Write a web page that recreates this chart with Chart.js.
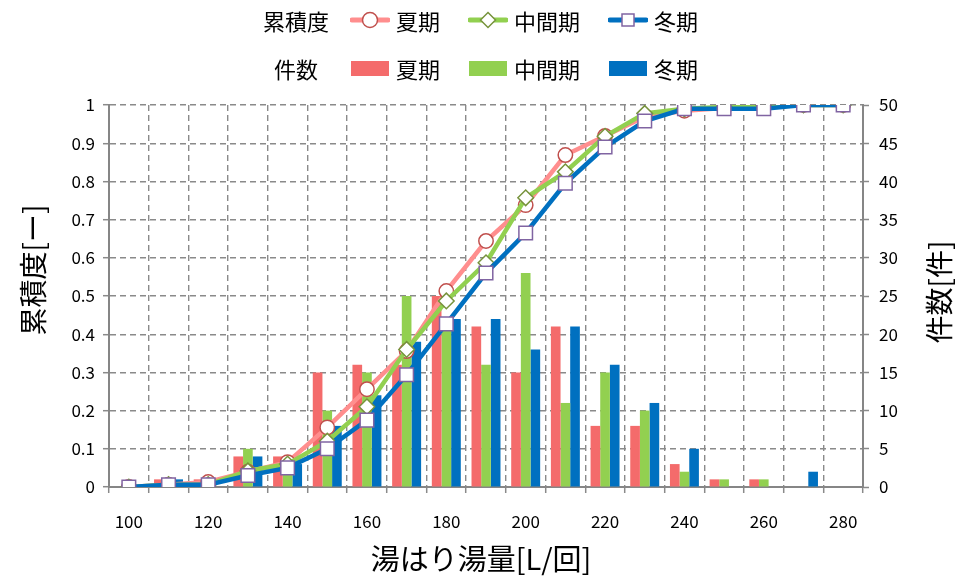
<!DOCTYPE html>
<html>
<head>
<meta charset="utf-8">
<script src="https://cdn.jsdelivr.net/npm/chart.js@4.4.1/dist/chart.umd.min.js"></script>
<style>
  html, body { margin: 0; padding: 0; background: #fff; }
  #wrap { position: relative; width: 958px; height: 577px; }
  #legend { position: absolute; left: 0; top: 0; width: 958px; font-family: "Noto Sans CJK JP", sans-serif; font-size: 22px; color: #000; }
  .row { position: absolute; left: 256px; height: 28px; display: flex; align-items: center; }
  .row .head { width: 80px; text-align: center; margin-right: 14px; }
  .item { display: flex; align-items: center; margin-right: 28px; }
  .item svg { margin-right: 6px; }
</style>
</head>
<body>
<div id="wrap">
  <canvas id="chart" width="958" height="577"></canvas>
  <div id="legend"></div>
</div>
<script>
// 湯はり湯量の分布（件数）と累積度
const categories = [100, 110, 120, 130, 140, 150, 160, 170, 180, 190, 200, 210, 220, 230, 240, 250, 260, 270, 280];
const seasons = ['夏期', '中間期', '冬期'];

// 件数 [件]
const countSummer = [0, 1, 1, 4, 4, 15, 16, 16, 25, 21, 15, 21, 8, 8, 3, 1, 1, 0, 0];
const countMid    = [0, 1, 0, 5, 3, 10, 15, 25, 21, 16, 28, 11, 15, 10, 2, 1, 1, 0, 0];
const countWinter = [0, 1, 0, 4, 3, 8, 12, 19, 22, 22, 18, 21, 16, 11, 5, 0, 0, 2, 0];

// 累積度 [-]
const cumSummer = [0, 0.006, 0.013, 0.04, 0.065, 0.156, 0.256, 0.356, 0.513, 0.644, 0.738, 0.869, 0.919, 0.969, 0.985, 0.992, 0.996, 1, 1];
const cumMid    = [0, 0.006, 0.006, 0.042, 0.06, 0.12, 0.21, 0.36, 0.487, 0.587, 0.757, 0.825, 0.918, 0.978, 0.99, 0.995, 1, 1, 1];
const cumWinter = [0, 0.006, 0.006, 0.03, 0.05, 0.1, 0.175, 0.294, 0.427, 0.56, 0.665, 0.795, 0.89, 0.958, 0.99, 0.99, 0.99, 1, 1];

const leftTicks = [0, 0.1, 0.2, 0.3, 0.4, 0.5, 0.6, 0.7, 0.8, 0.9, 1];
const rightTicks = [0, 5, 10, 15, 20, 25, 30, 35, 40, 45, 50];

const xTitle = '湯はり湯量[L/回]';
const yLeftTitle = '累積度[ー]';
const yRightTitle = '件数[件]';

const barColors = ['#F46B6B', '#92D050', '#0070C0'];
const lineColors = ['#FF8E8E', '#92D050', '#0070C0'];
const markerBorders = ['#C0504D', '#77933C', '#8064A2'];
const markerStyles = ['circle', 'rectRot', 'rect'];
const markerRadius = [7.2, 7.8, 9.6];

const gridGray = '#8A8A8A';
const fontFamily = '"Noto Sans CJK JP", "Noto Sans", sans-serif';
Chart.defaults.font.family = fontFamily;
Chart.defaults.color = '#000';

const countData = [countSummer, countMid, countWinter];
const cumData = [cumSummer, cumMid, cumWinter];

const datasets = [];
seasons.forEach((name, i) => {
  datasets.push({
    type: 'line',
    label: name,
    data: cumData[i],
    yAxisID: 'y',
    order: 3 - i,
    borderColor: lineColors[i],
    borderWidth: 4.5,
    tension: 0,
    pointStyle: markerStyles[i],
    pointRadius: markerRadius[i],
    pointBackgroundColor: '#fff',
    pointBorderColor: markerBorders[i],
    pointBorderWidth: 1.5
  });
});
seasons.forEach((name, i) => {
  datasets.push({
    type: 'bar',
    label: name,
    data: countData[i],
    yAxisID: 'y1',
    order: 10,
    backgroundColor: barColors[i],
    borderWidth: 0,
    categoryPercentage: 0.73,
    barPercentage: 1
  });
});

// 軸タイトル（元図の位置に合わせて描画）
const axisTitles = {
  id: 'axisTitles',
  afterDraw(chart) {
    const c = chart.ctx;
    c.save();
    c.fillStyle = '#000';
    c.textAlign = 'center';
    c.textBaseline = 'middle';
    c.font = '29px ' + fontFamily;
    c.fillText(xTitle, 481, 559);
    c.font = '28px ' + fontFamily;
    c.save();
    c.translate(33, 270);
    c.rotate(-Math.PI / 2);
    c.fillText(yLeftTitle, 0, 0);
    c.restore();
    c.save();
    c.translate(939, 292);
    c.rotate(-Math.PI / 2);
    c.fillText(yRightTitle, 0, 0);
    c.restore();
    c.restore();
  }
};

const ctx = document.getElementById('chart');
new Chart(ctx, {
  data: { labels: categories, datasets: datasets },
  plugins: [axisTitles],
  options: {
    responsive: false,
    animation: false,
    events: [],
    layout: { padding: { top: 105, left: 0, right: 0, bottom: 0 } },
    plugins: { legend: { display: false }, tooltip: { enabled: false } },
    scales: {
      x: {
        type: 'category',
        offset: true,
        afterFit: s => { s.height = 90; },
        grid: { offset: true, color: gridGray, lineWidth: 1.4, tickLength: 6, tickColor: gridGray, tickWidth: 1.5 },
        border: { display: true, color: '#868686', width: 2, dash: [6, 4] },
        ticks: {
          autoSkip: false, maxRotation: 0, padding: 18,
          font: { size: 17 },
          callback: (v, idx) => idx % 2 === 0 ? String(categories[idx]) : ''
        }
      },
      y: {
        position: 'left',
        min: 0, max: 1,
        afterFit: s => { s.width = 109; },
        afterBuildTicks: s => { s.ticks = leftTicks.map(v => ({ value: v })); },
        grid: { color: gridGray, lineWidth: 1.4, tickLength: 6, tickColor: gridGray, tickWidth: 1.5 },
        border: { display: true, color: '#868686', width: 2, dash: [6, 4] },
        ticks: { padding: 8, font: { size: 17 }, callback: v => String(Number(v.toFixed(1))) }
      },
      y1: {
        position: 'right',
        min: 0, max: 50,
        afterFit: s => { s.width = 95; },
        afterBuildTicks: s => { s.ticks = rightTicks.map(v => ({ value: v })); },
        grid: { drawOnChartArea: false, tickLength: 6, tickColor: gridGray, tickWidth: 1.5 },
        border: { display: true, color: '#868686', width: 2 },
        ticks: { padding: 10, font: { size: 17 }, callback: v => String(v) }
      }
    }
  }
});

// 凡例（累積度：線、件数：棒）
function lineSwatch(i) {
  const c = lineColors[i], b = markerBorders[i];
  let marker = '';
  if (markerStyles[i] === 'circle') {
    marker = `<circle cx="20" cy="11" r="7.5" fill="#fff" stroke="${b}" stroke-width="1.5"/>`;
  } else if (markerStyles[i] === 'rectRot') {
    marker = `<polygon points="20,3.5 27.5,11 20,18.5 12.5,11" fill="#fff" stroke="${b}" stroke-width="1.5"/>`;
  } else {
    marker = `<rect x="14" y="5" width="12" height="12" fill="#fff" stroke="${b}" stroke-width="1.5"/>`;
  }
  return `<svg width="40" height="22"><line x1="2" y1="11" x2="38" y2="11" stroke="${c}" stroke-width="5" stroke-linecap="round"/>${marker}</svg>`;
}
function barSwatch(i) {
  return `<svg width="40" height="22"><rect x="1" y="4" width="38" height="15" fill="${barColors[i]}"/></svg>`;
}
const legend = document.getElementById('legend');
let html = '<div class="row" style="top:6px"><div class="head">累積度</div>';
seasons.forEach((n, i) => { html += `<div class="item">${lineSwatch(i)}<span>${n}</span></div>`; });
html += '</div><div class="row" style="top:54px"><div class="head">件数</div>';
seasons.forEach((n, i) => { html += `<div class="item">${barSwatch(i)}<span>${n}</span></div>`; });
html += '</div>';
legend.innerHTML = html;
</script>
</body>
</html>
